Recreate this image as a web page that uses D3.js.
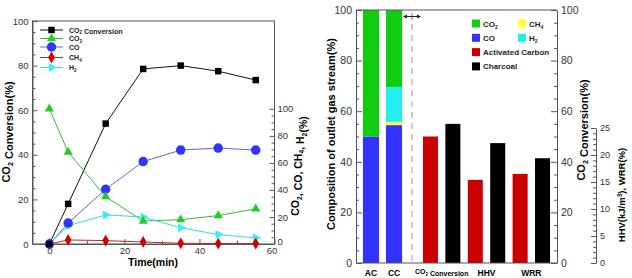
<!DOCTYPE html>
<html>
<head>
<meta charset="utf-8">
<script src="https://cdn.jsdelivr.net/npm/d3@7"></script>
<style>
  body { margin: 0; background: #fff; }
  svg { display: block; font-family: "Liberation Sans", Arial, sans-serif; }
  .tick text { fill: #333; }
  .domain, .tick line { stroke: #555; }
</style>
</head>
<body>
<svg id="chart" width="632" height="278"></svg>
<script>
// left panel: gas composition vs time
const times = [0, 5, 15, 25, 35, 45, 55];
const co2Conversion = [0, 18, 54, 78.5, 80, 77.5, 73.5];
const co2Gas = [100, 68, 35, 17, 18, 21, 26];
const coGas = [0, 15.5, 40.5, 61, 69.5, 71, 69.5];
const ch4Gas = [0, 3, 2.5, 1.5, 0.5, 0.3, 0.3];
const h2Gas = [0, 13.5, 21.5, 20, 12, 7, 4.5];

// right panel: composition of outlet gas + performance
const samples = ["AC", "CC"];
const gases = ["CO", "CH4", "H2", "CO2"]; // stacking order, bottom to top
const compAC = [50, 0, 0, 50];
const compCC = [54.5, 1.3, 13.8, 30.4];
const metrics = ["CO2 Conversion", "HHV", "WRR"];
const carbons = ["Activated Carbon", "Charcoal"];
const co2ConvBars = [50, 55];
const hhvBars = [15.4, 22.2];
const wrrBars = [16.5, 19.4];

const svg = d3.select("#chart");

// text with _{sub} markup
function rich(sel, str, size) {
  const re = /_\{([^}]*)\}/g;
  let last = 0, m;
  while ((m = re.exec(str)) !== null) {
    if (m.index > last) sel.append("tspan").text(str.slice(last, m.index));
    sel.append("tspan").attr("font-size", size * 0.65).attr("dy", size * 0.25).text(m[1]);
    sel.append("tspan").attr("dy", -size * 0.25).text("");
    last = re.lastIndex;
  }
  if (last < str.length) sel.append("tspan").text(str.slice(last));
  return sel;
}

function minor(axisFn, scale, vals, len) {
  return axisFn(scale).tickValues(vals).tickFormat("").tickSizeInner(len).tickSizeOuter(0);
}

// ---------------- left chart ----------------
const xL = d3.scaleLinear().domain([-4.5, 60]).range([32.5, 274.5]);
const yL = d3.scaleLinear().domain([0, 100]).range([244, 21]);
const yR = d3.scaleLinear().domain([0, 165]).range([244, 21]);

const gl = svg.append("g");
gl.append("rect").attr("x", xL.range()[0]).attr("y", yL.range()[1])
  .attr("width", xL.range()[1] - xL.range()[0]).attr("height", yL.range()[0] - yL.range()[1])
  .attr("fill", "none").attr("stroke", "#555");

const lFont = 9.5;
gl.append("g").attr("transform", `translate(${xL(-4.5)},0)`)
  .call(d3.axisLeft(yL).tickValues([0, 20, 40, 60, 80, 100]).tickSizeInner(-5).tickSizeOuter(0).tickPadding(4))
  .call(g => g.selectAll("text").attr("font-size", lFont));
gl.append("g").attr("transform", `translate(${xL(-4.5)},0)`)
  .call(minor(d3.axisLeft, yL, d3.range(5, 100, 5).filter(d => d % 20), -3))
  .call(g => g.select(".domain").remove());

gl.append("g").attr("transform", `translate(0,${yL(0)})`)
  .call(d3.axisBottom(xL).tickValues([0, 20, 40, 60]).tickSizeInner(-5).tickSizeOuter(0).tickPadding(3))
  .call(g => g.selectAll("text").attr("font-size", lFont))
  .call(g => g.selectAll(".tick").filter(d => d === 60).select("text").attr("dx", -3));
gl.append("g").attr("transform", `translate(0,${yL(0)})`)
  .call(minor(d3.axisBottom, xL, [10, 30, 50], -3))
  .call(g => g.select(".domain").remove());

gl.append("g").attr("transform", `translate(${xL(60)},0)`)
  .call(d3.axisRight(yR).tickValues([0, 20, 40, 60, 80, 100]).tickSizeInner(-5).tickSizeOuter(0).tickPadding(3))
  .call(g => g.select(".domain").remove())
  .call(g => g.selectAll("text").attr("font-size", lFont))
  .call(g => g.selectAll(".tick").filter(d => d === 0).select("text").attr("dy", "0.1em"));
gl.append("g").attr("transform", `translate(${xL(60)},0)`)
  .call(minor(d3.axisRight, yR, d3.range(5, 100, 5).filter(d => d % 20), -3))
  .call(g => g.select(".domain").remove());

rich(gl.append("text").attr("transform", "translate(10,132) rotate(-90)")
  .attr("text-anchor", "middle").attr("font-size", 11).attr("font-weight", "bold"),
  "CO_{2} Conversion(%)", 11);
gl.append("text").attr("x", 153).attr("y", 266).attr("text-anchor", "middle")
  .attr("font-size", 10.5).attr("font-weight", "bold").text("Time(min)");
rich(gl.append("text").attr("transform", "translate(299,166) rotate(-90)")
  .attr("text-anchor", "middle").attr("font-size", 10.5).attr("font-weight", "bold"),
  "CO_{2}, CO, CH_{4}, H_{2}(%)", 10.5);

const series = [
  { name: "CO_{2} Conversion", vals: co2Conversion, y: yL, line: "#111", fill: "#000", sym: d3.symbolSquare, size: 42, rot: 0 },
  { name: "CO_{2}", vals: co2Gas, y: yR, line: "#33bb33", fill: "#22cc22", sym: d3.symbolTriangle, size: 36, rot: 0 },
  { name: "CO", vals: coGas, y: yR, line: "#6666cc", fill: "#3333ff", sym: d3.symbolCircle, size: 70, rot: 0 },
  { name: "CH_{4}", vals: ch4Gas, y: yR, line: "#cc2222", fill: "#cc0000", sym: d3.symbolDiamond, size: 40, rot: 0 },
  { name: "H_{2}", vals: h2Gas, y: yR, line: "#33dddd", fill: "#33eeff", sym: d3.symbolTriangle, size: 36, rot: 90 }
];

const lineGen = (ys) => d3.line().x((d, i) => xL(times[i])).y(d => ys(d));
series.forEach(s => {
  gl.append("path").datum(s.vals).attr("d", lineGen(s.y)).attr("fill", "none")
    .attr("stroke", s.line).attr("stroke-width", 1);
});
series.slice().reverse().forEach(s => {
  gl.append("g").selectAll("path").data(s.vals).join("path")
    .attr("transform", (d, i) => `translate(${xL(times[i])},${s.y(d)}) rotate(${s.rot})`)
    .attr("d", d3.symbol(s.sym, s.size)).attr("fill", s.fill);
});

// legend
const legRows = [30, 38.5, 47, 57.5, 67.5];
series.forEach((s, i) => {
  const y = legRows[i];
  gl.append("line").attr("x1", 40).attr("x2", 63).attr("y1", y).attr("y2", y)
    .attr("stroke", s.line).attr("stroke-width", 1);
  gl.append("path").attr("transform", `translate(51.5,${y}) rotate(${s.rot})`)
    .attr("d", d3.symbol(s.sym, s.size)).attr("fill", s.fill);
  rich(gl.append("text").attr("x", 69).attr("y", y + 2.5).attr("font-size", 7)
    .attr("font-weight", "bold").attr("fill", "#222"), s.name, 7);
});

// ---------------- right chart ----------------
const yC = d3.scaleLinear().domain([0, 100]).range([263, 10]);
const yH = d3.scaleLinear().domain([0, 25]).range([263, 128]);
const xComp = d3.scaleBand().domain(samples).range([356, 409]).paddingInner(0.3).paddingOuter(0.3);
const perfKeys = metrics.flatMap(m => carbons.map(c => m + "|" + c));
const xPerf = d3.scaleBand().domain(perfKeys).range([416, 557]).paddingInner(0.33).paddingOuter(0.31);

const gasColor = d3.scaleOrdinal().domain(gases).range(["#3333ff", "#ffff33", "#22eeee", "#11cc11"]);
const carbonColor = d3.scaleOrdinal().domain(carbons).range(["#cc0000", "#000000"]);

const gr = svg.append("g");

// stacked composition bars
const compRows = samples.map((s, i) => {
  const row = { sample: s };
  gases.forEach((g, j) => row[g] = [compAC, compCC][i][j]);
  return row;
});
const stacked = d3.stack().keys(gases)(compRows);
gr.append("g").selectAll("g").data(stacked).join("g")
  .attr("fill", d => gasColor(d.key))
  .selectAll("rect").data(d => d).join("rect")
  .attr("x", d => xComp(d.data.sample)).attr("width", xComp.bandwidth())
  .attr("y", d => yC(d[1])).attr("height", d => yC(d[0]) - yC(d[1]));

// performance bars
const perfVals = { "CO2 Conversion": co2ConvBars, "HHV": hhvBars, "WRR": wrrBars };
const perfData = perfKeys.map(k => {
  const [m, c] = k.split("|");
  return { key: k, metric: m, carbon: c, value: perfVals[m][carbons.indexOf(c)] };
});
gr.append("g").selectAll("rect").data(perfData).join("rect")
  .attr("x", d => xPerf(d.key)).attr("width", xPerf.bandwidth())
  .attr("y", d => d.metric === "CO2 Conversion" ? yC(d.value) : yH(d.value))
  .attr("height", d => d.metric === "CO2 Conversion" ? yC(0) - yC(d.value) : yH(0) - yH(d.value))
  .attr("fill", d => carbonColor(d.carbon));

// frame
gr.append("line").attr("x1", 356).attr("x2", 557).attr("y1", yC(100)).attr("y2", yC(100)).attr("stroke", "#555");
gr.append("line").attr("x1", 356).attr("x2", 557).attr("y1", yC(0)).attr("y2", yC(0)).attr("stroke", "#555");

const rFont = 10.5;
gr.append("g").attr("transform", "translate(356,0)")
  .call(d3.axisLeft(yC).tickValues([0, 20, 40, 60, 80, 100]).tickSizeInner(-6).tickSizeOuter(0).tickPadding(4))
  .call(g => g.selectAll("text").attr("font-size", rFont));
gr.append("g").attr("transform", "translate(356,0)")
  .call(minor(d3.axisLeft, yC, d3.range(5, 100, 5).filter(d => d % 20), -3))
  .call(g => g.select(".domain").remove());

gr.append("g").attr("transform", "translate(557,0)")
  .call(d3.axisRight(yC).tickValues([0, 20, 40, 60, 80, 100]).tickSizeInner(-6).tickSizeOuter(0).tickPadding(4))
  .call(g => g.selectAll("text").attr("font-size", rFont));
gr.append("g").attr("transform", "translate(557,0)")
  .call(minor(d3.axisRight, yC, d3.range(5, 100, 5).filter(d => d % 20), -3))
  .call(g => g.select(".domain").remove());

gr.append("g").attr("transform", "translate(596,0)")
  .call(d3.axisRight(yH).tickValues([0, 5, 10, 15, 20, 25]).tickSizeInner(-5).tickSizeOuter(0).tickPadding(4))
  .call(g => g.selectAll("text").attr("font-size", 9));
gr.append("g").attr("transform", "translate(596,0)")
  .call(minor(d3.axisRight, yH, d3.range(1, 25, 1).filter(d => d % 5), -3))
  .call(g => g.select(".domain").remove());

// separator and arrow
const sepX = (xComp.range()[1] + xPerf.range()[0]) / 2 - 0.5;
gr.append("line").attr("x1", sepX).attr("x2", sepX).attr("y1", 24).attr("y2", 263)
  .attr("stroke", "#999").attr("stroke-dasharray", "6,5");
gr.append("line").attr("x1", sepX).attr("x2", sepX).attr("y1", 13).attr("y2", 20).attr("stroke", "#777");
gr.append("line").attr("x1", sepX - 8).attr("x2", sepX + 8).attr("y1", 16.5).attr("y2", 16.5).attr("stroke", "#222");
gr.append("path").attr("d", `M${sepX - 9},16.5 l4,-2 v4 z M${sepX + 9},16.5 l-4,-2 v4 z`).attr("fill", "#222");

// x labels
samples.forEach(s => {
  gr.append("text").attr("x", xComp(s) + xComp.bandwidth() / 2).attr("y", 276)
    .attr("text-anchor", "middle").attr("font-size", 8.5).attr("font-weight", "bold").text(s);
});
metrics.forEach(m => {
  const a = xPerf(m + "|" + carbons[0]), b = xPerf(m + "|" + carbons[1]) + xPerf.bandwidth();
  const t = gr.append("text").attr("x", (a + b) / 2).attr("text-anchor", "middle")
    .attr("font-weight", "bold").attr("font-size", m === "CO2 Conversion" ? 7 : 8.5);
  if (m === "CO2 Conversion") rich(t.attr("y", 274), "CO_{2} Conversion", 7);
  else t.attr("y", 276).text(m);
});

// axis titles
gr.append("text").attr("transform", "translate(335,134) rotate(-90)")
  .attr("text-anchor", "middle").attr("font-size", 11).attr("font-weight", "bold")
  .text("Composition of outlet gas stream(%)");
rich(gr.append("text").attr("transform", "translate(585,130) rotate(-90)")
  .attr("text-anchor", "middle").attr("font-size", 11).attr("font-weight", "bold"),
  "CO_{2} Conversion(%)", 11);
const hhvT = gr.append("text").attr("transform", "translate(625,195) rotate(-90)")
  .attr("text-anchor", "middle").attr("font-size", 9.5).attr("font-weight", "bold");
hhvT.append("tspan").text("HHV(kJ/m");
hhvT.append("tspan").attr("font-size", 6.5).attr("dy", -3.5).text("3");
hhvT.append("tspan").attr("dy", 3.5).text("), WRR(%)");

// legend
const legendItems = [
  { label: "CO_{2}", color: gasColor("CO2"), col: 0, row: 0 },
  { label: "CH_{4}", color: gasColor("CH4"), col: 1, row: 0 },
  { label: "CO", color: gasColor("CO"), col: 0, row: 1 },
  { label: "H_{2}", color: gasColor("H2"), col: 1, row: 1 },
  { label: carbons[0], color: carbonColor(carbons[0]), col: 0, row: 2 },
  { label: carbons[1], color: carbonColor(carbons[1]), col: 0, row: 3 }
];
legendItems.forEach(d => {
  const x = 472 + d.col * 46, y = 23.5 + d.row * 14.3;
  gr.append("rect").attr("x", x).attr("y", y - 4).attr("width", 8).attr("height", 8).attr("fill", d.color);
  rich(gr.append("text").attr("x", x + 11).attr("y", y + 3).attr("font-size", 8)
    .attr("font-weight", "bold").attr("fill", "#222"), d.label, 8);
});
</script>
</body>
</html>
